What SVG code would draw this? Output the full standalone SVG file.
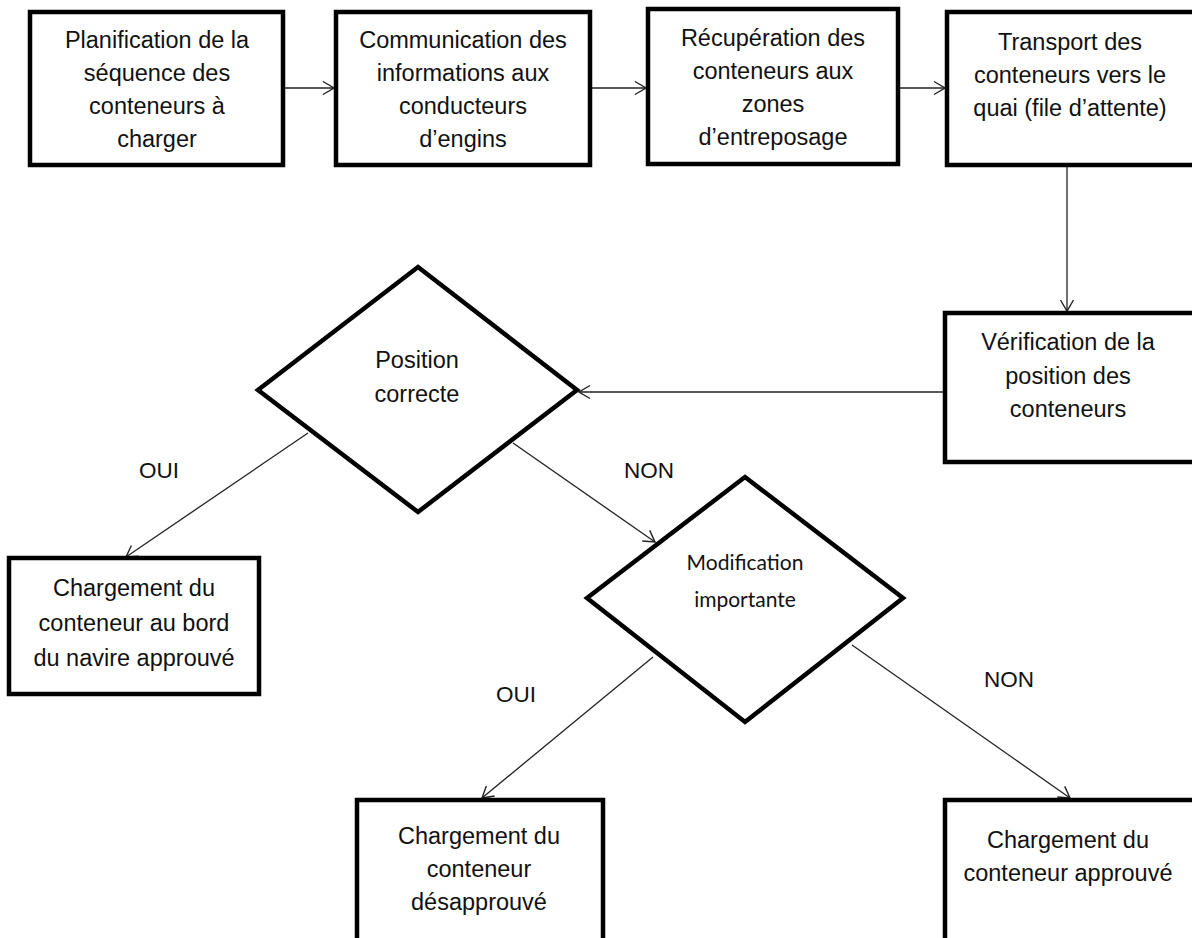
<svg xmlns="http://www.w3.org/2000/svg" width="1192" height="938" viewBox="0 0 1192 938">
<style>
.box{fill:#fff;stroke:#000;stroke-width:4.5}
.t{font-family:"Liberation Sans",Arial,sans-serif;font-size:23.5px;fill:#111;text-anchor:middle}
.c{font-family:Lato,"Open Sans",sans-serif;font-size:21px;fill:#111;text-anchor:middle}
.lbl{font-family:"Liberation Sans",Arial,sans-serif;font-size:22.5px;fill:#111}
.con{fill:none;stroke:#222;stroke-width:1.3}
</style>
<defs>
<marker id="arr" markerUnits="userSpaceOnUse" markerWidth="16" markerHeight="16" viewBox="-12 -8 14 16" refX="0" refY="0" orient="auto">
<path d="M-11,-6.5 L0,0 L-11,6.5" fill="none" stroke="#222" stroke-width="1.4"/>
</marker>
</defs>
<rect width="1192" height="938" fill="#fff"/>
<g id="connectors">
<path class="con" d="M283,88 L334,88" marker-end="url(#arr)"/>
<path class="con" d="M590,88 L646,88" marker-end="url(#arr)"/>
<path class="con" d="M898,88 L945,88" marker-end="url(#arr)"/>
<path class="con" d="M1067,165 L1067,311" marker-end="url(#arr)"/>
<path class="con" d="M945,392 L579,392" marker-end="url(#arr)"/>
<path class="con" d="M308,433 L126,557" marker-end="url(#arr)"/>
<path class="con" d="M513,443 L655,542" marker-end="url(#arr)"/>
<path class="con" d="M653,657 L482,798" marker-end="url(#arr)"/>
<path class="con" d="M852,645 L1070,798" marker-end="url(#arr)"/>
</g>
<g id="n1">
<rect class="box" x="30" y="12" width="253" height="153"/>
<text class="t"><tspan x="157" y="48">Planification de la</tspan><tspan x="157" y="81">séquence des</tspan><tspan x="157" y="114">conteneurs à</tspan><tspan x="157" y="147">charger</tspan></text>
</g>
<g id="n2">
<rect class="box" x="336" y="12" width="254" height="153"/>
<text class="t"><tspan x="463" y="48">Communication des</tspan><tspan x="463" y="81">informations aux</tspan><tspan x="463" y="114">conducteurs</tspan><tspan x="463" y="147">d’engins</tspan></text>
</g>
<g id="n3">
<rect class="box" x="648" y="9" width="250" height="155"/>
<text class="t"><tspan x="773" y="46">Récupération des</tspan><tspan x="773" y="79">conteneurs aux</tspan><tspan x="773" y="112">zones</tspan><tspan x="773" y="145">d’entreposage</tspan></text>
</g>
<g id="n4">
<rect class="box" x="947" y="12" width="260" height="153"/>
<text class="t"><tspan x="1070" y="50">Transport des</tspan><tspan x="1070" y="83">conteneurs vers le</tspan><tspan x="1070" y="116">quai (file d’attente)</tspan></text>
</g>
<g id="n5">
<rect class="box" x="945" y="313" width="260" height="149"/>
<text class="t"><tspan x="1068" y="350">Vérification de la</tspan><tspan x="1068" y="384">position des</tspan><tspan x="1068" y="417">conteneurs</tspan></text>
</g>
<g id="d1">
<polygon class="box" points="418,267 577,390 418,512 258,390"/>
<text class="t"><tspan x="417" y="368">Position</tspan><tspan x="417" y="402">correcte</tspan></text>
</g>
<g id="n6">
<rect class="box" x="9" y="558" width="250" height="136"/>
<text class="t"><tspan x="134" y="596">Chargement du</tspan><tspan x="134" y="631">conteneur au bord</tspan><tspan x="134" y="666">du navire approuvé</tspan></text>
</g>
<g id="d2">
<polygon class="box" points="745,477 903,598 745,722 587,598"/>
<text class="c"><tspan x="745" y="570">Modification</tspan><tspan x="745" y="607">importante</tspan></text>
</g>
<g id="n7">
<rect class="box" x="357" y="800" width="246" height="150"/>
<text class="t"><tspan x="479" y="844">Chargement du</tspan><tspan x="479" y="877">conteneur</tspan><tspan x="479" y="910">désapprouvé</tspan></text>
</g>
<g id="n8">
<rect class="box" x="945" y="800" width="260" height="150"/>
<text class="t"><tspan x="1068" y="848">Chargement du</tspan><tspan x="1068" y="881">conteneur approuvé</tspan></text>
</g>
<g id="labels">
<text class="lbl" x="139" y="478">OUI</text>
<text class="lbl" x="624" y="478">NON</text>
<text class="lbl" x="496" y="702">OUI</text>
<text class="lbl" x="984" y="687">NON</text>
</g>
</svg>
